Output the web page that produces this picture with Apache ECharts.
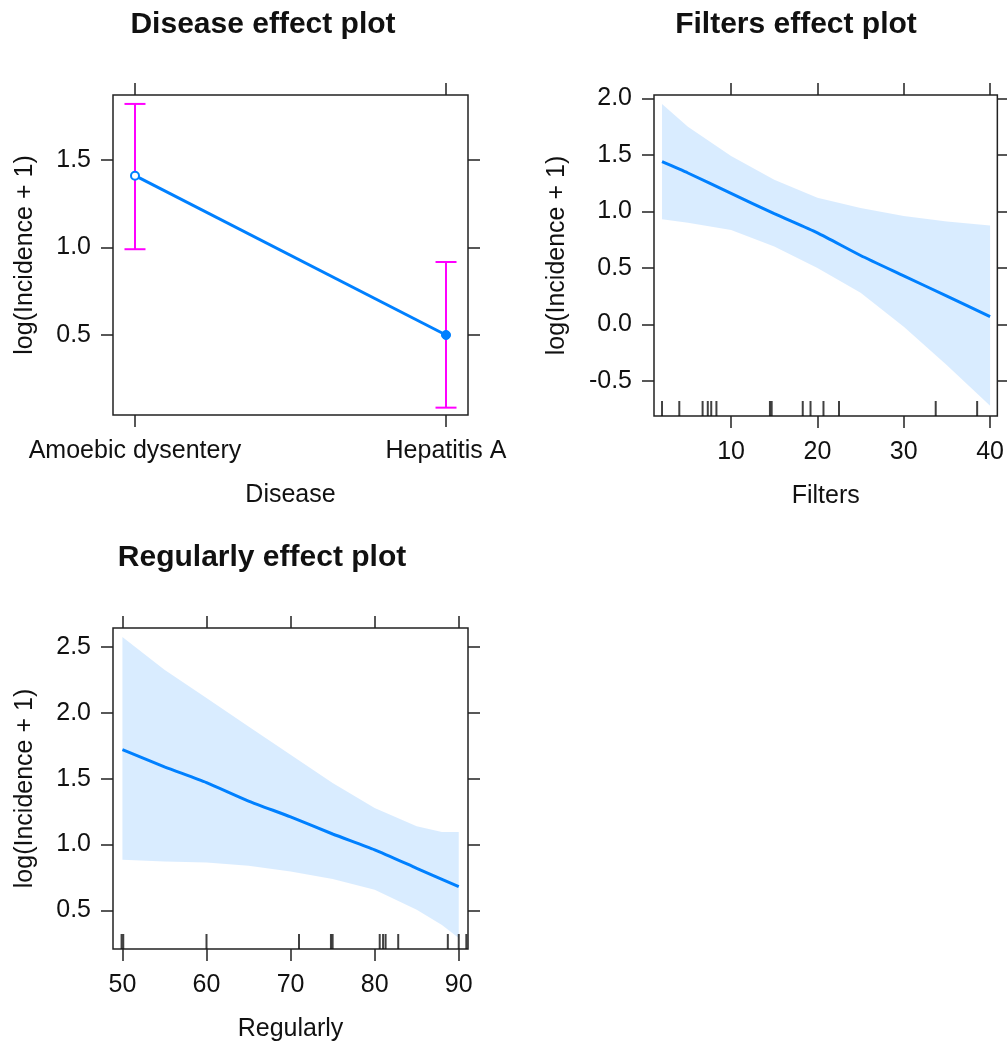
<!DOCTYPE html>
<html>
<head>
<meta charset="utf-8">
<script src="https://cdn.jsdelivr.net/npm/echarts@6/dist/echarts.min.js"></script>
<style>
  html, body { margin: 0; padding: 0; background: #fff; }
  #chart { width: 1007px; height: 1046px; }
</style>
</head>
<body>
<div id="chart"></div>
<script>
// --- Disease panel ---
const diseaseCats = ['Amoebic dysentery', 'Hepatitis A'];
const diseaseFit = [1.41, 0.50];
const diseaseLower = [0.99, 0.085];
const diseaseUpper = [1.82, 0.917];
const diseaseYTicks = [0.5, 1.0, 1.5];

// --- Filters panel ---
const filtersX = [2, 5, 10, 15, 20, 25, 30, 35, 40];
const filtersFit = [1.44, 1.34, 1.16, 0.98, 0.81, 0.61, 0.43, 0.25, 0.07];
const filtersUpper = [1.95, 1.75, 1.49, 1.28, 1.12, 1.03, 0.96, 0.91, 0.875];
const filtersLower = [0.93, 0.90, 0.835, 0.69, 0.50, 0.28, -0.02, -0.36, -0.72];
const filtersRug = [2, 4, 6.7, 7.3, 7.7, 8.3, 14.5, 14.7, 18.3, 19.2, 20.7, 22.5, 33.7, 38.5];
const filtersXTicks = [10, 20, 30, 40];
const filtersYTicks = [-0.5, 0.0, 0.5, 1.0, 1.5, 2.0];

// --- Regularly panel ---
const regFitX = [50, 55, 60, 65, 70, 75, 80, 85, 90];
const regFit = [1.72, 1.59, 1.47, 1.33, 1.21, 1.08, 0.96, 0.82, 0.68];
const regBandX = [50, 55, 60, 65, 70, 75, 80, 85, 88, 90];
const regUpper = [2.576, 2.327, 2.112, 1.897, 1.682, 1.467, 1.277, 1.138, 1.095, 1.095];
const regLower = [0.885, 0.872, 0.864, 0.839, 0.796, 0.738, 0.657, 0.505, 0.39, 0.29];
const regRug = [49.9, 50.1, 60, 71, 74.8, 75.0, 80.6, 81, 81.3, 82.8, 88.7, 90, 90.9];
const regXTicks = [50, 60, 70, 80, 90];
const regYTicks = [0.5, 1.0, 1.5, 2.0, 2.5];

const FONT = '"Liberation Sans", Arial, sans-serif';
const INK = '#111';
const BLUE = '#0080ff';
const BAND = 'rgba(0,128,255,0.15)';

const chart = echarts.init(document.getElementById('chart'));

function xAxis(grid, pos, min, max, ticks, fmt, name) {
  return {
    type: 'value', gridIndex: grid, position: pos, min: min, max: max,
    name: pos === 'bottom' ? name : '',
    nameLocation: 'middle', nameGap: 68,
    nameTextStyle: { fontFamily: FONT, fontSize: 25, color: INK },
    axisLine: { show: false, onZero: false },
    splitLine: { show: false },
    axisTick: { show: true, inside: false, length: 12, customValues: ticks,
      lineStyle: { color: '#222', width: 1.5 } },
    axisLabel: { show: pos === 'bottom', customValues: ticks, margin: 24,
      fontFamily: FONT, fontSize: 25, color: INK, formatter: fmt }
  };
}

function yAxis(grid, pos, min, max, ticks, nameGap) {
  return {
    type: 'value', gridIndex: grid, position: pos, min: min, max: max,
    name: pos === 'left' ? 'log(Incidence + 1)' : '',
    nameLocation: 'middle', nameGap: nameGap,
    nameTextStyle: { fontFamily: FONT, fontSize: 25, color: INK },
    axisLine: { show: false, onZero: false },
    splitLine: { show: false },
    axisTick: { show: true, inside: false, length: 12, customValues: ticks,
      lineStyle: { color: '#222', width: 1.5 } },
    axisLabel: { show: pos === 'left', customValues: ticks, margin: 22,
      fontFamily: FONT, fontSize: 25, color: INK,
      formatter: v => Number(v).toFixed(1) }
  };
}

function bandSeries(ax, xs, lo, hi) {
  return {
    type: 'custom', xAxisIndex: ax, yAxisIndex: ax, silent: true, z: 1,
    data: [[xs[0], lo[0]]],
    renderItem: function (params, api) {
      const pts = [];
      for (let i = 0; i < xs.length; i++) pts.push(api.coord([xs[i], hi[i]]));
      for (let i = xs.length - 1; i >= 0; i--) pts.push(api.coord([xs[i], lo[i]]));
      return { type: 'polygon', shape: { points: pts }, style: { fill: BAND } };
    }
  };
}

function fitSeries(ax, xs, ys) {
  return {
    type: 'line', xAxisIndex: ax, yAxisIndex: ax, silent: true, z: 3,
    data: xs.map((x, i) => [x, ys[i]]),
    showSymbol: false, smooth: 0.2,
    lineStyle: { color: BLUE, width: 3 }
  };
}

function rugSeries(ax, vals, yMin) {
  return {
    type: 'scatter', xAxisIndex: ax, yAxisIndex: ax, silent: true, z: 4,
    data: vals.map(v => [v, yMin]),
    symbol: 'rect', symbolSize: [2, 15], symbolOffset: [0, -7.5],
    itemStyle: { color: INK }
  };
}

const grids = [
  { left: 113, top: 95, width: 355, height: 320 },
  { left: 654, top: 95, width: 346, height: 321 },
  { left: 113, top: 628, width: 355, height: 321 }
].map(g => Object.assign(g, { show: true, borderColor: '#222', borderWidth: 1.5, containLabel: false }));

const ranges = {
  d: { x: [-0.0707, 1.0707], y: [0.043, 1.871] },
  f: { x: [1.07, 40.84], y: [-0.81, 2.03] },
  r: { x: [48.88, 91.1], y: [0.207, 2.644] }
};

const catFmt = v => diseaseCats[Math.round(v)] || '';
const numFmt = v => String(v);

const option = {
  animation: false,
  backgroundColor: '#fff',
  grid: grids,
  xAxis: [
    xAxis(0, 'bottom', ranges.d.x[0], ranges.d.x[1], [0, 1], catFmt, 'Disease'),
    xAxis(0, 'top', ranges.d.x[0], ranges.d.x[1], [0, 1], catFmt, ''),
    xAxis(1, 'bottom', ranges.f.x[0], ranges.f.x[1], filtersXTicks, numFmt, 'Filters'),
    xAxis(1, 'top', ranges.f.x[0], ranges.f.x[1], filtersXTicks, numFmt, ''),
    xAxis(2, 'bottom', ranges.r.x[0], ranges.r.x[1], regXTicks, numFmt, 'Regularly'),
    xAxis(2, 'top', ranges.r.x[0], ranges.r.x[1], regXTicks, numFmt, '')
  ],
  yAxis: [
    yAxis(0, 'left', ranges.d.y[0], ranges.d.y[1], diseaseYTicks, 75),
    yAxis(0, 'right', ranges.d.y[0], ranges.d.y[1], diseaseYTicks, 0),
    yAxis(1, 'left', ranges.f.y[0], ranges.f.y[1], filtersYTicks, 84),
    yAxis(1, 'right', ranges.f.y[0], ranges.f.y[1], filtersYTicks, 0),
    yAxis(2, 'left', ranges.r.y[0], ranges.r.y[1], regYTicks, 75),
    yAxis(2, 'right', ranges.r.y[0], ranges.r.y[1], regYTicks, 0)
  ],
  series: [
    // Disease: error bars then fitted points
    {
      type: 'custom', xAxisIndex: 0, yAxisIndex: 0, silent: true, z: 1,
      data: diseaseCats.map((c, i) => [i, diseaseLower[i], diseaseUpper[i]]),
      renderItem: function (params, api) {
        const x = api.value(0);
        const top = api.coord([x, api.value(2)]);
        const bot = api.coord([x, api.value(1)]);
        const st = { stroke: '#ff00ff', lineWidth: 2 };
        return {
          type: 'group', children: [
            { type: 'line', shape: { x1: top[0], y1: top[1], x2: bot[0], y2: bot[1] }, style: st },
            { type: 'line', shape: { x1: top[0] - 10.5, y1: top[1], x2: top[0] + 10.5, y2: top[1] }, style: st },
            { type: 'line', shape: { x1: bot[0] - 10.5, y1: bot[1], x2: bot[0] + 10.5, y2: bot[1] }, style: st }
          ]
        };
      }
    },
    {
      type: 'line', xAxisIndex: 0, yAxisIndex: 0, silent: true, z: 3,
      data: [
        { value: [0, diseaseFit[0]], symbol: 'circle', symbolSize: 8,
          itemStyle: { color: '#fff', borderColor: BLUE, borderWidth: 2 } },
        { value: [1, diseaseFit[1]], symbol: 'circle', symbolSize: 9,
          itemStyle: { color: BLUE, borderColor: BLUE } }
      ],
      lineStyle: { color: BLUE, width: 3 }
    },
    // Filters
    bandSeries(2, filtersX, filtersLower, filtersUpper),
    fitSeries(2, filtersX, filtersFit),
    rugSeries(2, filtersRug, ranges.f.y[0]),
    // Regularly
    bandSeries(4, regBandX, regLower, regUpper),
    fitSeries(4, regFitX, regFit),
    rugSeries(4, regRug, ranges.r.y[0])
  ],
  graphic: [
    { type: 'text', x: 263, y: 25, style: { text: 'Disease effect plot', font: 'bold 30px ' + FONT, fill: INK, align: 'center', verticalAlign: 'middle' } },
    { type: 'text', x: 796, y: 25, style: { text: 'Filters effect plot', font: 'bold 30px ' + FONT, fill: INK, align: 'center', verticalAlign: 'middle' } },
    { type: 'text', x: 262, y: 558, style: { text: 'Regularly effect plot', font: 'bold 30px ' + FONT, fill: INK, align: 'center', verticalAlign: 'middle' } }
  ]
};

// left/bottom axis of grid k sits at index 2k on both dimensions
option.series.forEach(s => { s.yAxisIndex = s.xAxisIndex; });

chart.setOption(option);
</script>
</body>
</html>
